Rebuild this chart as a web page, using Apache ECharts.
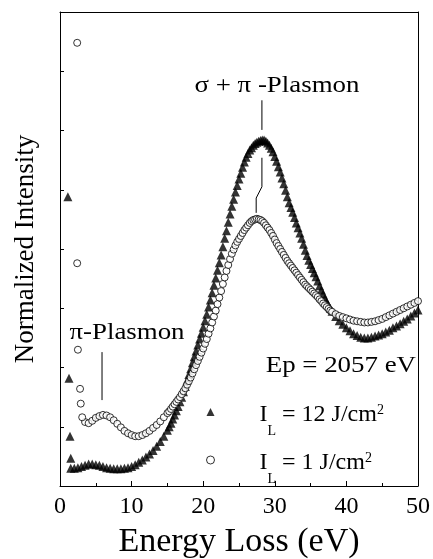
<!DOCTYPE html>
<html>
<head>
<meta charset="utf-8">
<script src="https://cdn.jsdelivr.net/npm/echarts@6/dist/echarts.min.js"></script>
<style>
  html, body { margin: 0; padding: 0; background: #fff; }
  #main { width: 433px; height: 559px; }
</style>
</head>
<body>
<div id="main"></div>
<script>
// energy loss grid (eV) shared by both measurements
var energy = [
  1.5, 2, 2.5, 3, 3.5, 4, 4.5, 5, 5.5, 6, 6.5, 7, 7.5, 8, 8.5, 9, 9.5, 10,
  10.5, 11, 11.5, 12, 12.5, 13, 13.5, 14, 14.5,
  15, 15.25, 15.5, 15.75, 16, 16.25, 16.5, 16.75, 17, 17.25, 17.5, 17.75,
  18, 18.25, 18.5, 18.75, 19, 19.25, 19.5, 19.75, 20, 20.25, 20.5, 20.75,
  21, 21.25, 21.5, 21.75, 22, 22.25, 22.5, 22.75, 23, 23.25, 23.5, 23.75,
  24, 24.25, 24.5, 24.75, 25, 25.25, 25.5, 25.75, 26, 26.25, 26.5, 26.75,
  27, 27.25, 27.5, 27.75, 28, 28.25, 28.5, 28.75, 29, 29.25, 29.5, 29.75,
  30, 30.25, 30.5, 30.75, 31, 31.25, 31.5, 31.75, 32, 32.25, 32.5, 32.75,
  33, 33.25, 33.5, 33.75, 34, 34.25, 34.5, 34.75, 35, 35.25, 35.5, 35.75,
  36, 36.25, 36.5, 36.75, 37, 37.25, 37.5, 37.75, 38,
  38.5, 39, 39.5, 40, 40.5, 41, 41.5, 42, 42.5, 43, 43.5, 44, 44.5, 45,
  45.5, 46, 46.5, 47, 47.5, 48, 48.5, 49, 49.5, 50
];

// I_L = 12 J/cm2 (triangles)
var int12 = [
  0.30, 0.30, 0.31, 0.33, 0.35, 0.37, 0.37, 0.36, 0.35, 0.33, 0.31, 0.30, 0.29, 0.29, 0.29, 0.30, 0.31, 0.33,
  0.36, 0.40, 0.44, 0.49, 0.54, 0.60, 0.67, 0.75, 0.84,
  0.94, 1.00, 1.06, 1.13, 1.20, 1.27, 1.34, 1.42, 1.50, 1.59, 1.68, 1.78,
  1.88, 1.98, 2.08, 2.18, 2.28, 2.38, 2.48, 2.58, 2.68, 2.79, 2.90, 3.02,
  3.14, 3.26, 3.39, 3.51, 3.64, 3.77, 3.90, 4.04, 4.18, 4.31, 4.45, 4.59,
  4.72, 4.84, 4.96, 5.07, 5.18, 5.28, 5.38, 5.47, 5.55, 5.61, 5.67, 5.71,
  5.75, 5.78, 5.80, 5.82, 5.83, 5.84, 5.84, 5.82, 5.79, 5.75, 5.70, 5.64,
  5.56, 5.48, 5.39, 5.30, 5.20, 5.10, 4.99, 4.88, 4.78, 4.70, 4.62, 4.53,
  4.44, 4.36, 4.27, 4.18, 4.08, 3.98, 3.89, 3.81, 3.74, 3.67, 3.60, 3.53,
  3.46, 3.38, 3.31, 3.24, 3.17, 3.11, 3.05, 3.00, 2.95,
  2.86, 2.79, 2.73, 2.67, 2.62, 2.57, 2.54, 2.51, 2.50, 2.50, 2.51, 2.53, 2.55, 2.57,
  2.60, 2.63, 2.67, 2.70, 2.74, 2.78, 2.82, 2.87, 2.92, 2.97
];
var extra12 = [[1.1, 4.88], [1.26, 1.82], [1.4, 0.84], [1.5, 0.47]];

// I_L = 1 J/cm2 (open circles)
var int1 = [
  null, null, null, null, 1.08, 1.06, 1.10, 1.15, 1.18, 1.20, 1.19, 1.16, 1.11, 1.05, 0.99, 0.93, 0.89, 0.86,
  0.84, 0.84, 0.86, 0.89, 0.93, 0.98, 1.03, 1.09, 1.16,
  1.23, 1.26, 1.30, 1.34, 1.38, 1.42, 1.46, 1.50, 1.55, 1.60, 1.65, 1.71,
  1.77, 1.83, 1.90, 1.97, 2.04, 2.11, 2.18, 2.25, 2.32, 2.40, 2.48, 2.57,
  2.66, 2.76, 2.86, 2.96, 3.07, 3.18, 3.29, 3.41, 3.52, 3.63, 3.73, 3.83,
  3.92, 3.99, 4.06, 4.12, 4.17, 4.22, 4.27, 4.32, 4.36, 4.40, 4.44, 4.47,
  4.49, 4.50, 4.51, 4.50, 4.49, 4.47, 4.44, 4.40, 4.36, 4.32, 4.27, 4.22,
  4.16, 4.10, 4.05, 4.00, 3.95, 3.90, 3.85, 3.80, 3.76, 3.72, 3.68, 3.64,
  3.60, 3.56, 3.52, 3.48, 3.44, 3.40, 3.37, 3.34, 3.31, 3.28, 3.25, 3.22,
  3.19, 3.15, 3.12, 3.08, 3.05, 3.02, 2.99, 2.96, 2.94,
  2.90, 2.87, 2.85, 2.83, 2.81, 2.79, 2.78, 2.77, 2.76, 2.76, 2.77, 2.78, 2.80, 2.82,
  2.85, 2.88, 2.91, 2.94, 2.97, 3.00, 3.03, 3.06, 3.09, 3.12
];
var extra1 = [[2.4, 7.48], [2.4, 3.76], [2.5, 2.30], [2.8, 1.64], [2.9, 1.39], [3.1, 1.16]];

// leader lines of the annotations (data coords)
var sigmaTop = [[28.2, 6.51], [28.2, 6.01]];
var sigmaLow = [[28.2, 5.54], [28.2, 5.05], [27.4, 4.86], [27.4, 4.61]];
var piLine = [[5.87, 2.26], [5.87, 1.45]];

var xTicks = [0, 10, 20, 30, 40, 50];

function pairs(xs, ys) {
  var out = [];
  for (var i = 0; i < xs.length; i++) {
    if (ys[i] != null) out.push([xs[i], ys[i]]);
  }
  return out;
}

var serif = 'Liberation Serif';
var name12 = 'IL = 12 J/cm2';
var name1 = 'IL = 1 J/cm2';

var legendRich = {
  i: { fontFamily: serif, fontSize: 24, color: '#000', lineHeight: 30, verticalAlign: 'top', padding: [6, 0, 0, 40] },
  a: { fontFamily: serif, fontSize: 24, color: '#000', lineHeight: 30, verticalAlign: 'top', padding: [6, 0, 0, 0] },
  s: { fontFamily: serif, fontSize: 14, color: '#000', lineHeight: 14, verticalAlign: 'top', padding: [27, 0, 0, 0] },
  p: { fontFamily: serif, fontSize: 14, color: '#000', lineHeight: 12, verticalAlign: 'top', padding: [6, 0, 0, 0] }
};

// plain lines closing the frame on top and right
var frameAxis = {
  axisLine: { show: true, onZero: false, lineStyle: { color: '#000', width: 1 } },
  axisTick: { show: false }, axisLabel: { show: false }, splitLine: { show: false }
};

var chart = echarts.init(document.getElementById('main'));
chart.setOption({
  animation: false,
  backgroundColor: '#fff',
  grid: { left: 60, right: 15, top: 12, bottom: 73, outerBoundsMode: 'none' },
  xAxis: [{
    type: 'value', min: 0, max: 50, interval: 10,
    name: 'Energy Loss (eV)', nameLocation: 'middle', nameGap: 39,
    nameTextStyle: { fontFamily: serif, fontSize: 34, color: '#000' },
    axisLine: { lineStyle: { color: '#000', width: 1 } },
    axisTick: { inside: true, length: 5, lineStyle: { color: '#000' } },
    minorTick: { show: true, splitNumber: 2, length: 3, lineStyle: { color: '#000' } },
    axisLabel: {
      fontFamily: serif, fontSize: 24, color: '#000', margin: 9,
      formatter: function (v) { return xTicks.indexOf(v) >= 0 ? String(v) : ''; }
    },
    splitLine: { show: false }
  }, Object.assign({ type: 'value', position: 'top', min: 0, max: 50 }, frameAxis)],
  yAxis: [{
    type: 'value', min: 0, max: 8, interval: 1,
    name: 'Normalized Intensity', nameLocation: 'middle', nameGap: 21,
    nameTextStyle: { fontFamily: serif, fontSize: 27, color: '#000' },
    axisLine: { lineStyle: { color: '#000', width: 1 } },
    axisTick: { inside: true, length: 4, lineStyle: { color: '#000' } },
    axisLabel: { show: false },
    splitLine: { show: false }
  }, Object.assign({ type: 'value', position: 'right', min: 0, max: 8 }, frameAxis)],
  legend: {
    orient: 'vertical', left: 201, top: 392, itemGap: 7,
    itemWidth: 8, itemHeight: 8, selectedMode: false,
    data: [
      { name: name12, icon: 'triangle', itemStyle: { color: '#000' } },
      { name: name1, icon: 'circle', itemStyle: { color: '#fff', borderColor: '#000', borderWidth: 1 } }
    ],
    formatter: function (n) {
      var rest = n === name12 ? ' = 12 J/cm' : ' = 1 J/cm';
      return '{i|I}{s|L}{a|' + rest + '}{p|2}';
    },
    textStyle: { rich: legendRich }
  },
  graphic: [
    { type: 'text', x: 277, y: 86, scaleX: 1.12, silent: true,
      style: { text: 'σ + π -Plasmon', font: '24px "Liberation Serif"', fill: '#000',
               align: 'center', verticalAlign: 'middle', textAlign: 'center', textVerticalAlign: 'middle' } },
    { type: 'text', x: 127, y: 333, scaleX: 1.12, silent: true,
      style: { text: 'π-Plasmon', font: '24px "Liberation Serif"', fill: '#000',
               align: 'center', verticalAlign: 'middle', textAlign: 'center', textVerticalAlign: 'middle' } },
    { type: 'text', x: 416, y: 366, scaleX: 1.12, silent: true,
      style: { text: 'Ep = 2057 eV', font: '24px "Liberation Serif"', fill: '#000',
               align: 'right', verticalAlign: 'middle', textAlign: 'right', textVerticalAlign: 'middle' } }
  ],
  series: [
    {
      name: name12, type: 'scatter', symbol: 'triangle', symbolSize: 9,
      itemStyle: { color: '#000' },
      data: pairs(energy, int12).concat(extra12), z: 2
    },
    {
      name: name1, type: 'scatter', symbol: 'circle', symbolSize: 7,
      itemStyle: { color: '#fff', borderColor: '#000', borderWidth: 1 },
      data: pairs(energy, int1).concat(extra1), z: 3
    },
    { type: 'line', data: sigmaTop, symbol: 'none', silent: true, lineStyle: { color: '#000', width: 1 }, z: 4 },
    { type: 'line', data: sigmaLow, symbol: 'none', silent: true, lineStyle: { color: '#000', width: 1 }, z: 4 },
    { type: 'line', data: piLine, symbol: 'none', silent: true, lineStyle: { color: '#000', width: 1 }, z: 4 }
  ]
});
</script>
</body>
</html>
